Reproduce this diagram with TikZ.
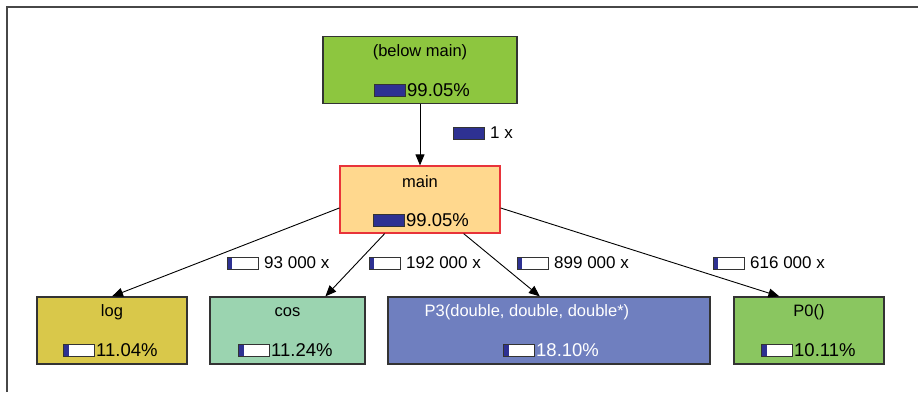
\documentclass[tikz,border=0pt]{standalone}
\usepackage{fontspec}
\setmainfont{Liberation Sans}
\usetikzlibrary{arrows.meta, positioning}

\definecolor{barblue}{RGB}{46,49,146}
\definecolor{boxline}{RGB}{51,51,51}
\definecolor{greenA}{RGB}{141,198,63}
\definecolor{greenB}{RGB}{138,198,96}
\definecolor{mainfill}{RGB}{255,216,142}
\definecolor{mainline}{RGB}{232,51,58}
\definecolor{logfill}{RGB}{217,200,74}
\definecolor{cosfill}{RGB}{155,212,176}
\definecolor{pthree}{RGB}{111,127,191}

\tikzset{
  fn/.style={draw=boxline, line width=1.2pt, minimum height=67, inner sep=0},
  lbl/.style={inner sep=0, font=\fontsize{16.5}{19}\selectfont},
  pct/.style={inner sep=0, anchor=west, font=\fontsize{18.5}{21}\selectfont},
  call/.style={-{Triangle[length=11pt,width=9pt]}, line width=0.9pt},
}

% bar with percentage: name, x, y, filled width, text
\newcommand{\pctbar}[5]{%
  \fill[white] (#2,#3-6) rectangle +(31,12);
  \fill[barblue] (#2,#3-6) rectangle +(#4,12);
  \draw[line width=0.9pt, boxline] (#2,#3-6) rectangle +(31,12);
  \node[pct] (#1) at (#2+33,#3) {#5};
}
% bar with call count, on an edge
\newcommand{\cntbar}[5]{%
  \fill[white] (#2,#3-6) rectangle +(31,12);
  \fill[barblue] (#2,#3-6) rectangle +(#4,12);
  \draw[line width=0.9pt, boxline] (#2,#3-6) rectangle +(31,12);
  \node[pct, font=\fontsize{17}{20}\selectfont] (#1) at (#2+37,#3) {#5};
}

\begin{document}
\begin{tikzpicture}[x=1pt, y=-1pt]
\useasboundingbox (0,0) rectangle (918,392);
\draw[line width=2pt, color=boxline!90] (7,392) -- (7,6.5) -- (918,6.5);

\node[fn, fill=greenA, minimum width=194] (BM) at (420,70)    {};
\node[fn, fill=mainfill, draw=mainline, minimum width=160] (M) at (420,199.5) {};
\node[fn, fill=logfill, minimum width=150] (L)  at (112,330.5)  {};
\node[fn, fill=cosfill, minimum width=155] (C)  at (287.5,330.5) {};
\node[fn, fill=pthree, minimum width=322] (P3) at (549,330.5)  {};
\node[fn, fill=greenB, minimum width=150] (P0) at (809,330.5)  {};

\node[lbl] (BMt) at (420,52)  {(below main)};
\node[lbl] (Mt)  at (420,182) {main};
\node[lbl] (Lt)  at (112,312) {log};
\node[lbl] (Ct)  at (287.5,312) {cos};
\node[lbl, text=white] (P3t) at (527,312) {P3(double, double, double*)};
\node[lbl] (P0t) at (809,312) {P0()};

\pctbar{BMp}{374}{90}{31}{99.05\%}
\pctbar{Mp}{373}{220}{31}{99.05\%}
\pctbar{Lp}{63}{350}{6}{11.04\%}
\pctbar{Cp}{238}{350}{6}{11.24\%}
\begin{scope}[every node/.append style={text=white}]
\pctbar{P3p}{503}{350}{6}{18.10\%}
\end{scope}
\pctbar{P0p}{761}{350}{6}{10.11\%}

\draw[call] (BM) -- (M);
\draw[call] (M.186) -- (L.north);
\draw[call] (M.224) -- (C.42);
\draw[call] (M.322) -- (P3.105);
\draw[call] (M.354) -- (P0.131);

\cntbar{e1}{453}{133}{31}{1 x}
\cntbar{e2}{227}{263}{5}{93 000 x}
\cntbar{e3}{369}{263}{5}{192 000 x}
\cntbar{e4}{517}{263}{5}{899 000 x}
\cntbar{e5}{713}{263}{5}{616 000 x}
\end{tikzpicture}
\end{document}
